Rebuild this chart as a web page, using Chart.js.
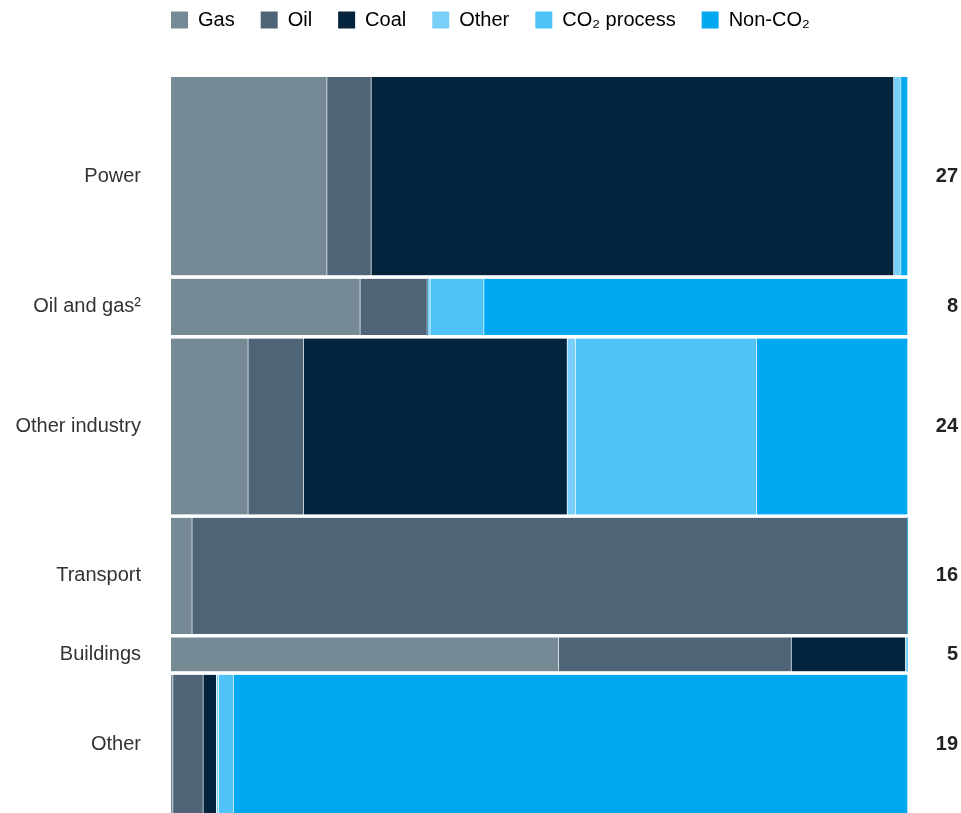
<!DOCTYPE html>
<html>
<head>
<meta charset="utf-8">
<script src="https://cdn.jsdelivr.net/npm/chart.js@4.4.1/dist/chart.umd.min.js"></script>
<style>
  html, body { margin: 0; padding: 0; background: #ffffff; overflow: hidden; }
  #wrap { position: relative; width: 961px; height: 815px; }
</style>
</head>
<body>
<div id="wrap"><canvas id="c"></canvas></div>
<script>
// ---- Data ----
const sectors = ['Power', 'Oil and gas²', 'Other industry', 'Transport', 'Buildings', 'Other'];
const sectorTotals = [27, 8, 24, 16, 5, 19];
const sourceTypes = ['Gas', 'Oil', 'Coal', 'Other', 'CO₂ process', 'Non-CO₂'];
const sourceColors = ['#768A96', '#4F6477', '#02243C', '#78CFF7', '#4FC3F7', '#00A7F1'];
// share (%) of each source type within each sector: Gas, Oil, Coal, Other, CO2 process, Non-CO2
const powerShares         = [21.2, 6.0, 70.9, 1.0, 0.0, 0.9];
const oilGasShares        = [25.7, 9.1, 0.0, 0.4, 7.3, 57.5];
const otherIndustryShares = [10.5, 7.5, 35.8, 1.1, 24.6, 20.5];
const transportShares     = [2.9, 97.1, 0.0, 0.0, 0.0, 0.0];
const buildingsShares     = [52.6, 31.6, 15.5, 0.3, 0.0, 0.0];
const otherShares         = [0.3, 4.1, 1.8, 0.3, 2.0, 91.5];
const sectorShares = [powerShares, oilGasShares, otherIndustryShares, transportShares, buildingsShares, otherShares];

// ---- Derived structures ----
const grandTotal = sectorTotals.reduce((a, b) => a + b, 0);
const rowStarts = [];
sectorTotals.reduce((acc, v, i) => { rowStarts[i] = acc; return acc + v; }, 0);
const rowCenters = sectorTotals.map((v, i) => rowStarts[i] + v / 2);
const ROW_GAP = 3.4;
const FONT = "'Liberation Sans', Arial, Helvetica, sans-serif";

const datasets = sectorShares.map((shares, r) => {
  let cum = 0;
  const data = shares.map(s => { const p = { x: [cum, cum + s], y: rowCenters[r] }; cum += s; return p; });
  return {
    label: sectors[r],
    data,
    backgroundColor: sourceColors,
    borderColor: '#ffffff',
    borderWidth: { top: 0, bottom: 0, left: 0, right: 1 },
    borderSkipped: false,
    barThickness: (ctx) => {
      const y = ctx.chart.scales.y;
      const i = ctx.datasetIndex;
      return Math.abs(y.getPixelForValue(rowStarts[i] + sectorTotals[i]) - y.getPixelForValue(rowStarts[i])) - ROW_GAP;
    }
  };
});

const LEGEND_PAD = 26;
const legendShift = {
  id: 'legendShift',
  afterLayout(chart) {
    const lg = chart.legend;
    if (!lg) return;
    const w = lg.width, h = lg.height;
    lg.left = chart.chartArea.left - LEGEND_PAD;
    lg.right = lg.left + w;
    lg.top = 20 - LEGEND_PAD - 10;
    lg.bottom = lg.top + h;
  }
};

Chart.defaults.font.family = FONT;

new Chart(document.getElementById('c'), {
  type: 'bar',
  data: { datasets },
  plugins: [legendShift],
  options: {
    indexAxis: 'y',
    responsive: true,
    maintainAspectRatio: false,
    animation: false,
    layout: { padding: { top: 19.3, right: 3, left: 0, bottom: 0 } },
    plugins: {
      tooltip: { enabled: false },
      legend: {
        display: true,
        position: 'top',
        align: 'start',
        onClick: null,
        labels: {
          boxWidth: 17,
          boxHeight: 17,
          padding: LEGEND_PAD,
          color: '#333333',
          font: { size: 20, family: FONT },
          generateLabels: () => sourceTypes.map((t, i) => ({
            text: t, fillStyle: sourceColors[i], strokeStyle: sourceColors[i], lineWidth: 0, hidden: false, index: i
          }))
        }
      }
    },
    scales: {
      x: { type: 'linear', min: 0, max: 100, display: false },
      y: {
        type: 'linear',
        position: 'left',
        min: 0,
        max: grandTotal,
        reverse: true,
        stacked: true,
        offset: false,
        grid: { display: false, drawTicks: false, offset: false },
        border: { display: false },
        afterBuildTicks: (scale) => { scale.ticks = rowCenters.map(v => ({ value: v })); },
        afterFit: (scale) => { scale.width = 171; scale.paddingTop = 0; scale.paddingBottom = 0; },
        ticks: {
          autoSkip: false,
          padding: 30,
          color: '#333333',
          font: { size: 20, family: FONT },
          callback: (value, index) => sectors[index]
        }
      },
      y2: {
        type: 'linear',
        position: 'right',
        min: 0,
        max: grandTotal,
        reverse: true,
        offset: false,
        grid: { display: false, drawTicks: false, offset: false },
        border: { display: false },
        afterBuildTicks: (scale) => { scale.ticks = rowCenters.map(v => ({ value: v })); },
        afterFit: (scale) => { scale.width = 50; scale.paddingTop = 0; scale.paddingBottom = 0; },
        ticks: {
          autoSkip: false,
          crossAlign: 'far',
          padding: 0,
          color: '#222222',
          font: { size: 20, weight: 'bold', family: FONT },
          callback: (value, index) => String(sectorTotals[index])
        }
      }
    }
  }
});
</script>
</body>
</html>
